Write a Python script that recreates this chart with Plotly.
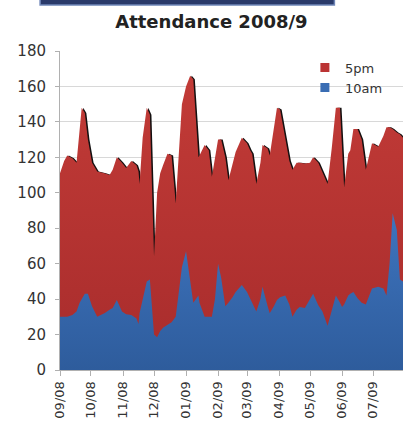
import plotly.graph_objects as go
import pandas as pd

dates = [
    "2008-09-01", "2008-09-05", "2008-09-08", "2008-09-13", "2008-09-17", "2008-09-20",
    "2008-09-22", "2008-09-25", "2008-09-28", "2008-10-02", "2008-10-07", "2008-10-14",
    "2008-10-19", "2008-10-22", "2008-10-26", "2008-10-31", "2008-11-04", "2008-11-09",
    "2008-11-14", "2008-11-16", "2008-11-17", "2008-11-20", "2008-11-24", "2008-11-27",
    "2008-12-01", "2008-12-04", "2008-12-07", "2008-12-10", "2008-12-14", "2008-12-18",
    "2008-12-22", "2008-12-28", "2009-01-01", "2009-01-05", "2009-01-08", "2009-01-13",
    "2009-01-14", "2009-01-19", "2009-01-23", "2009-01-26", "2009-01-29", "2009-02-01",
    "2009-02-04", "2009-02-08", "2009-02-11", "2009-02-15", "2009-02-18", "2009-02-24",
    "2009-03-01", "2009-03-04", "2009-03-06", "2009-03-10", "2009-03-14", "2009-03-16",
    "2009-03-21", "2009-03-23", "2009-03-27", "2009-03-30", "2009-04-02", "2009-04-07",
    "2009-04-11", "2009-04-14", "2009-04-18", "2009-04-21", "2009-04-26", "2009-05-01",
    "2009-05-04", "2009-05-09", "2009-05-13", "2009-05-18", "2009-05-22", "2009-05-26",
    "2009-05-30", "2009-06-01", "2009-06-03", "2009-06-07", "2009-06-09", "2009-06-12",
    "2009-06-16", "2009-06-20", "2009-06-24", "2009-06-30", "2009-07-06", "2009-07-11",
    "2009-07-14", "2009-07-17", "2009-07-20", "2009-07-24", "2009-07-27", "2009-07-30",
]

pm5 = [
    111, 118, 121, 119.5, 117, 135,
    148, 145, 130, 117, 112, 111,
    110, 113, 120, 117, 114, 118,
    115.5, 112, 105, 131, 148, 144,
    64, 100, 111, 116, 122, 121,
    94, 150, 160, 166, 164, 120,
    121, 127, 124, 109, 120, 130,
    130, 120, 107, 117, 123, 131,
    128, 124, 122, 105, 117, 127,
    125, 121, 135, 148, 147, 130,
    118, 113, 117, 117, 116.5, 117,
    120, 117, 112, 105, 125, 148,
    148, 125, 103, 122, 124, 136,
    136, 130, 113, 128, 126, 132,
    137, 137, 136, 134, 133, 131,
]

am10 = [
    30, 30, 30, 31, 33, 38,
    40, 43, 43, 36, 30, 32,
    34, 35, 39.5, 33, 31.5, 31,
    29, 26, 32, 40, 50, 51,
    20, 18.5, 22, 24, 25.5, 27,
    30, 58, 67, 50, 38, 42,
    38, 30, 30, 30, 40, 60,
    52, 36, 38, 41, 44, 48,
    44, 40.5, 38, 33, 40, 47,
    36, 32, 36, 39.5, 41, 42,
    37, 30, 34, 35.5, 35, 40,
    43, 36.6, 33, 25, 33, 42,
    38, 35.5, 37, 42, 43, 44,
    40.5, 38, 37, 46, 47, 46,
    42, 60, 88.5, 79, 51, 50,
]

month_ticks = ["2008-09-01", "2008-10-01", "2008-11-01", "2008-12-01", "2009-01-01",
               "2009-02-01", "2009-03-01", "2009-04-01", "2009-05-01", "2009-06-01",
               "2009-07-01"]
month_labels = ["09/08", "10/08", "11/08", "12/08", "01/09", "02/09", "03/09",
                "04/09", "05/09", "06/09", "07/09"]

RED = "#bb3434"
BLUE = "#3a6db3"

x = pd.to_datetime(dates)
shadow_x = x + pd.Timedelta(days=1.5)

fig = go.Figure()

# drop shadow of the 5pm area
fig.add_trace(go.Scatter(
    x=shadow_x, y=pm5, mode="lines", line=dict(width=0, color="#111"),
    fill="tozeroy", fillcolor="#141010", showlegend=False, hoverinfo="skip"))

fig.add_trace(go.Scatter(
    x=x, y=pm5, name="5pm", mode="lines", line=dict(width=0, color=RED),
    fill="tozeroy",
    fillgradient=dict(type="vertical",
                      colorscale=[[0, "#a82c2c"], [1, "#c23b37"]]),
    fillcolor=RED, showlegend=False))

fig.add_trace(go.Scatter(
    x=x, y=am10, name="10am", mode="lines", line=dict(width=0, color=BLUE),
    fill="tozeroy",
    fillgradient=dict(type="vertical",
                      colorscale=[[0, "#2e5c9c"], [1, "#3e74be"]]),
    fillcolor=BLUE, showlegend=False))

# legend entries (square keys)
for name, col in (("5pm", RED), ("10am", BLUE)):
    fig.add_trace(go.Scatter(
        x=[None], y=[None], mode="markers", name=name,
        marker=dict(symbol="square", size=9, color=col)))

fig.update_layout(
    width=405, height=429,
    margin=dict(l=60, r=2, t=51, b=59),
    paper_bgcolor="white", plot_bgcolor="white",
    font=dict(family="DejaVu Sans", color="#333333"),
    title=dict(text="<b>Attendance 2008/9</b>", xref="container", x=0.522,
               xanchor="center", y=0.949, yanchor="middle",
               font=dict(size=18, family="DejaVu Sans", color="#222222")),
    legend=dict(x=0.714, y=0.995, xanchor="left", yanchor="top",
                bgcolor="rgba(0,0,0,0)", font=dict(size=13, color="#333"),
                itemwidth=30, tracegroupgap=0),
    showlegend=True,
    shapes=[dict(type="rect", xref="paper", yref="paper",
                 x0=-0.058, x1=0.80, y0=1.144, y1=1.2,
                 line=dict(color="#6f86b8", width=1.5),
                 fillcolor="#2a3a6a", layer="above")],
)

fig.update_xaxes(
    type="date", automargin=False,
    range=[x[0], x[-1]],
    tickvals=pd.to_datetime(month_ticks), ticktext=month_labels,
    tickangle=-90, tickfont=dict(size=13, color="#333"),
    showgrid=False, showline=True, linecolor="#b0b0b0", linewidth=1,
    ticks="outside", ticklen=5, tickcolor="#b0b0b0", zeroline=False)

fig.update_yaxes(
    range=[0, 180], dtick=20, automargin=False,
    tickfont=dict(size=15, color="#333"), ticklabelstandoff=6,
    showgrid=True, gridcolor="#d8d8d8", gridwidth=1,
    showline=True, linecolor="#b0b0b0", linewidth=1,
    ticks="outside", ticklen=4, tickcolor="#b0b0b0", zeroline=False)

fig.write_html("out.html", config={"displayModeBar": False},
               post_script="document.body.style.margin='0';document.body.style.padding='0';")
